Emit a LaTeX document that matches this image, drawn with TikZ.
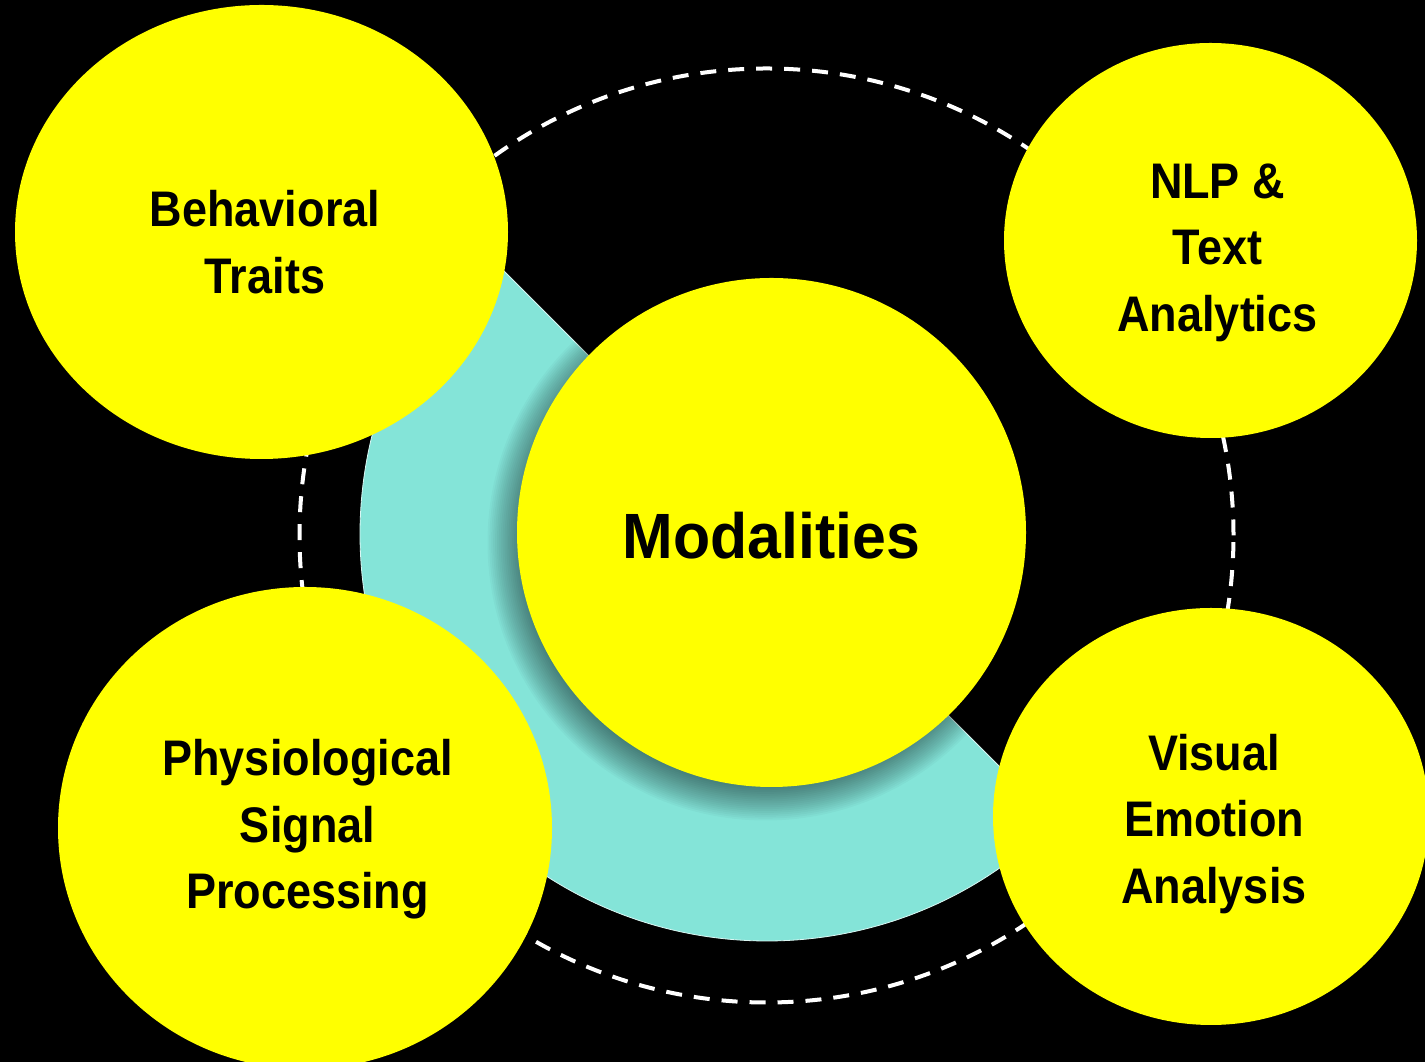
\documentclass[tikz,border=0pt]{standalone}
\usepackage{fontspec}
\usetikzlibrary{shapes.geometric}
\newfontfamily\labelfont[FakeStretch=0.9]{Liberation Sans}
\newfontfamily\hubfont[FakeStretch=0.95]{Liberation Sans}
\definecolor{discyellow}{HTML}{FFFF00}
\definecolor{sectorteal}{RGB}{132,228,216}
\tikzset{
  disc/.style={ellipse, fill=discyellow, draw=none, inner sep=0pt},
  disclabel/.style={align=center, text=black, inner sep=0pt, text depth=0pt,
    font=\labelfont\bfseries\fontsize{50}{66.5}\selectfont},
  hublabel/.style={align=center, text=black, inner sep=0pt, text depth=0pt,
    font=\hubfont\bfseries\fontsize{64}{70}\selectfont},
  orbit/.style={draw=white, line width=4pt, dash pattern=on 16pt off 12pt},
  shadowring/.style={fill=black, fill opacity=0.026, draw=none},
}
\begin{document}
\begin{tikzpicture}[x=1pt, y=1pt]
  \useasboundingbox (0,0) rectangle (1425,1062);
  \clip (0,0) rectangle (1425,1062);
  \fill[black] (0,0) rectangle (1425,1062);

  % dashed orbit
  \draw[orbit] (766.5,526.5) circle[radius=467];

  % half disc behind the hub
  \fill[sectorteal, draw=white!70!sectorteal, line width=0.8pt]
    (767,528) -- ++(135:407) arc[start angle=135, end angle=315, radius=407] -- cycle;

  % outer discs
  \node[disc, minimum width=493, minimum height=454] (behav) at (261.5,830) {};
  \node[disc, minimum width=413, minimum height=395] (nlp) at (1210.5,821.5) {};
  \node[disc, minimum width=436, minimum height=417] (visual) at (1211,245.5) {};
  \node[disc, minimum width=494, minimum height=482] (physio) at (305,234) {};

  % soft drop shadow of the hub: stacked translucent discs
  \coordinate (shadowc) at (765.5,519.5);
  \foreach \i in {0,...,24}
    \fill[shadowring] (shadowc) circle[radius={278-1.9*\i}];

  % hub
  \node[circle, fill=discyellow, draw=none, inner sep=0pt, minimum size=509]
    (hub) at (771.5,529.5) {};

  % labels
  \node[hublabel] (hubtext) at (771.5,527) {Modalities};
  \node[disclabel] (behavtext) at (265,820) {Behavioral\\Traits};
  \node[disclabel] (nlptext) at (1217.5,814.5) {NLP \&\\Text\\Analytics};
  \node[disclabel] (visualtext) at (1214,243.5) {Visual\\Emotion\\Analysis};
  \node[disclabel] (physiotext) at (307.5,238) {Physiological\\Signal\\Processing};
\end{tikzpicture}
\end{document}
